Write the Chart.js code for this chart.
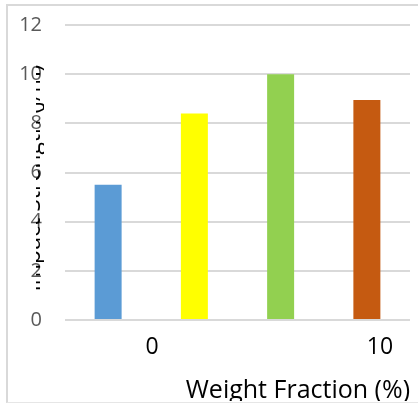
<!DOCTYPE html>
<html>
<head>
<meta charset="utf-8">
<script src="https://cdn.jsdelivr.net/npm/chart.js@4.4.1/dist/chart.umd.min.js"></script>
<style>
  html, body { margin: 0; padding: 0; background: #fff; }
  #wrap { position: relative; width: 418px; height: 403px; overflow: hidden; }
  #clip { position: absolute; left: 0; top: 0; width: 418px; height: 401px; overflow: hidden; }
  #frame { position: absolute; left: 6px; top: 4px; width: 430px; height: 399px;
           border-left: 2px solid #d9d9d9; border-top: 2px solid #d9d9d9; border-bottom: 1px solid #e6e6e6;
           box-sizing: border-box; }
  canvas { position: absolute; left: 0; top: 0; }
</style>
</head>
<body>
<div id="wrap">
  <div id="frame"></div>
  <div id="clip"><canvas id="c" width="418" height="403"></canvas></div>
</div>
<script>
// ---- data ----
const categories = ['A', 'B', 'C', 'D'];
const values = [5.5, 8.4, 10.0, 8.95];
const barColors = ['#5B9BD5', '#FFFF00', '#92D050', '#C55A11'];
const yTicks = [0, 2, 4, 6, 8, 10, 12];
const xTickValues = [0, 10];
const xTickLabels = ['0', '10'];
const xTitle = 'Weight Fraction (%)';
const yTitle = 'Impact Strength (J/m)';

const clippedYTitle = {
  id: 'clippedYTitle',
  afterDraw(chart) {
    const ctx = chart.ctx;
    ctx.save();
    ctx.beginPath();
    ctx.rect(36, 45, 8, 260);
    ctx.clip();
    ctx.translate(33, 178);
    ctx.rotate(-Math.PI / 2);
    ctx.fillStyle = '#000';
    ctx.font = '23px "Open Sans"';
    ctx.textAlign = 'center';
    ctx.textBaseline = 'middle';
    ctx.fillText(yTitle, 0, 0);
    ctx.restore();
  }
};

new Chart(document.getElementById('c'), {
  type: 'bar',
  data: {
    labels: categories,
    datasets: [{
      data: values,
      backgroundColor: barColors,
      borderWidth: 0,
      categoryPercentage: 1.0,
      barPercentage: 0.313,
      xAxisID: 'x'
    }]
  },
  options: {
    responsive: false,
    animation: false,
    layout: { padding: { top: 25, right: 8, left: 0, bottom: 0 } },
    plugins: { legend: { display: false }, tooltip: { enabled: false } },
    scales: {
      x: { display: false },
      x2: {
        type: 'linear',
        position: 'bottom',
        offset: false,
        bounds: 'data',
        min: -3.82,
        max: 11.32,
        afterBuildTicks(axis) { axis.ticks = xTickValues.map(v => ({ value: v })); },
        afterFit(scale) { scale.height = 83; },
        grid: { display: false, drawTicks: false, offset: false },
        border: { display: false },
        ticks: {
          color: '#000',
          font: { family: '"Open Sans"', size: 23 },
          padding: 14,
          maxRotation: 0,
          autoSkip: false,
          callback(v) { const i = xTickValues.indexOf(v); return i >= 0 ? xTickLabels[i] : ''; }
        },
        title: {
          display: true,
          text: xTitle,
          align: 'end',
          color: '#000',
          font: { family: '"Open Sans"', size: 25, lineHeight: 1 },
          padding: { top: 0, bottom: 0 }
        }
      },
      y: {
        min: 0,
        max: 12,
        afterBuildTicks(axis) { axis.ticks = yTicks.map(v => ({ value: v })); },
        afterFit(scale) { scale.width = 65; },
        grid: { color: '#d9d9d9', lineWidth: 2, drawTicks: true, tickLength: 21, tickColor: 'rgba(0,0,0,0)' },
        border: { display: false },
        ticks: {
          color: '#595959',
          font: { family: '"Open Sans"', size: 20 },
          padding: 2
        }
      }
    }
  },
  plugins: [clippedYTitle]
});
</script>
</body>
</html>
